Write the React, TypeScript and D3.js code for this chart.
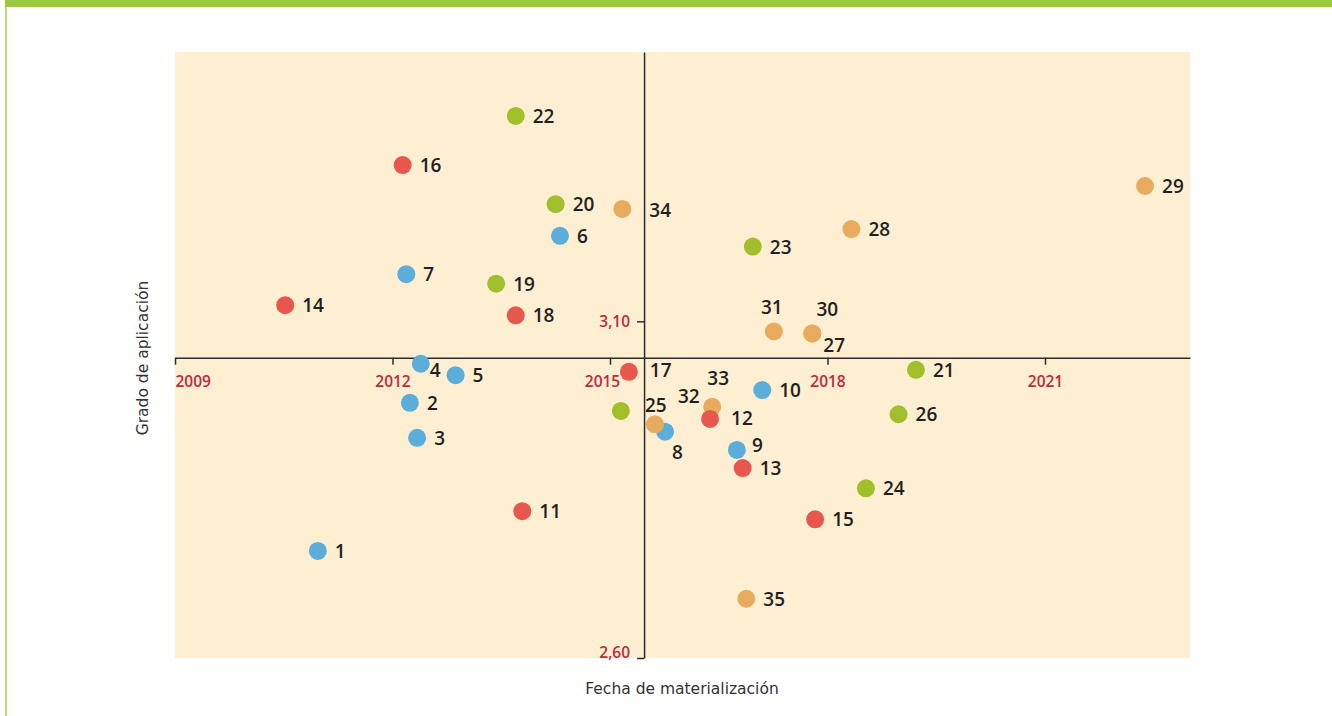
import React, { useRef, useEffect } from "react";
import { select, scaleLinear, axisBottom, axisLeft } from "d3";

// datos
const ids = [
  1, 2, 3, 4, 5, 6, 7, 8, 9, 10,
  11, 12, 13, 14, 15, 16, 17, 18,
  19, 20, 21, 22, 23, 24, 25, 26,
  27, 28, 29, 30, 31, 32, 33, 34, 35,
];
const fecha = [
  2010.97, 2012.24, 2012.34, 2012.39, 2012.87, 2014.31, 2012.19, 2015.76, 2016.75, 2017.1,
  2013.79, 2016.38, 2016.83, 2010.52, 2017.83, 2012.14, 2015.26, 2013.7,
  2013.43, 2014.25, 2019.22, 2013.7, 2016.97, 2018.53, 2015.15, 2018.98,
  2017.79, 2018.33, 2022.38, 2017.79, 2017.26, 2015.62, 2016.41, 2015.17, 2016.88,
];
const grado = [
  2.759, 2.979, 2.927, 3.037, 3.02, 3.227, 3.17, 2.936, 2.909, 2.998,
  2.818, 2.955, 2.882, 3.124, 2.806, 3.332, 3.025, 3.109,
  3.156, 3.274, 3.028, 3.405, 3.211, 2.852, 2.967, 2.962,
  3.082, 3.237, 3.301, 3.082, 3.085, 2.947, 2.973, 3.267, 2.688,
];
const grupo = [
  "azul", "azul", "azul", "azul", "azul", "azul", "azul", "azul", "azul", "azul",
  "rojo", "rojo", "rojo", "rojo", "rojo", "rojo", "rojo", "rojo",
  "verde", "verde", "verde", "verde", "verde", "verde", "verde", "verde",
  "naranja", "naranja", "naranja", "naranja", "naranja", "naranja", "naranja", "naranja", "naranja",
];
const xTicks = [2009, 2012, 2015, 2018, 2021];
const yTicks = [3.1, 2.6];
const xDomain = [2009, 2023];
const yDomain = [2.6, 3.5];
const cruceX = 2015.47;
const cruceY = 3.046;

const colores = {
  azul: "#5badda",
  rojo: "#e8574e",
  verde: "#a1bf2a",
  naranja: "#e8ab5d",
};
const orden = ["azul", "verde", "naranja", "rojo"];

// posicion de las etiquetas (dx, dy, anchor), por defecto a la derecha
const etiquetas = {
  4: [9, 13, "start"],
  8: [7, 27, "start"],
  9: [15, 2, "start"],
  12: [21, 6, "start"],
  17: [21, 5, "start"],
  34: [27, 8, "start"],
  25: [35, 1, "middle"],
  32: [23, -21, "start"],
  33: [6, -22, "middle"],
  31: [-2, -17, "middle"],
  30: [15, -17, "middle"],
  27: [11, 19, "start"],
};

function App() {
  const ref = useRef(null);

  useEffect(() => {
    const svg = select(ref.current);
    svg.selectAll("*").remove();

    const width = 1332;
    const height = 716;
    const left = 175, right = 1190, top = 52, bottom = 658;

    // marco verde
    svg.append("rect").attr("x", 5).attr("y", 0).attr("width", width - 5).attr("height", 7).attr("fill", "#9aca3c");
    svg.append("rect").attr("x", 5).attr("y", 7).attr("width", 2).attr("height", height - 7).attr("fill", "#b9da86");

    const x = scaleLinear().domain(xDomain).range([left, right]);
    const y = scaleLinear().domain(yDomain).range([bottom, top]);

    svg.append("rect")
      .attr("x", left).attr("y", top)
      .attr("width", right - left).attr("height", bottom - top)
      .attr("fill", "#feefd3");

    const font = "'Open Sans', sans-serif";
    const fontTitulo = "'DejaVu Sans', sans-serif";
    const rojoTexto = "#c0283b";

    // eje horizontal
    const xAxisG = svg.append("g")
      .attr("transform", `translate(0,${y(cruceY)})`)
      .call(axisBottom(x).tickValues(xTicks).tickSize(7).tickSizeOuter(0).tickFormat((d) => String(d)));
    xAxisG.select(".domain").attr("stroke", "#2b2b2b").attr("stroke-width", 1.5);
    xAxisG.selectAll(".tick line").attr("stroke", "#2b2b2b").attr("stroke-width", 1.5);
    xAxisG.selectAll(".tick text")
      .attr("y", 29)
      .attr("dy", 0)
      .attr("fill", rojoTexto)
      .attr("font-family", font)
      .attr("font-size", 15.5)
      .attr("font-weight", 600)
      .attr("text-anchor", (d) => (d === 2009 ? "start" : "middle"))
      .attr("x", (d) => (d === 2015 ? -8 : 0));

    // eje vertical
    const yAxisG = svg.append("g")
      .attr("transform", `translate(${x(cruceX)},0)`)
      .call(axisLeft(y).tickValues(yTicks).tickSize(7).tickSizeOuter(0).tickFormat((d) => d.toFixed(2).replace(".", ",")));
    yAxisG.select(".domain").attr("stroke", "#2b2b2b").attr("stroke-width", 1.5);
    yAxisG.selectAll(".tick line").attr("stroke", "#2b2b2b").attr("stroke-width", 1.5);
    yAxisG.selectAll(".tick text")
      .attr("x", -14)
      .attr("dy", (d) => (d === 2.6 ? "-0.05em" : "0.35em"))
      .attr("fill", rojoTexto)
      .attr("font-family", font)
      .attr("font-size", 15.5)
      .attr("font-weight", 600);
    xAxisG.attr("font-family", null).attr("font-size", null);
    yAxisG.attr("font-family", null).attr("font-size", null);

    // puntos
    const datos = ids.map((id, i) => ({ id, fx: fecha[i], gy: grado[i], g: grupo[i] }));
    const ordenados = datos.slice().sort((a, b) => orden.indexOf(a.g) - orden.indexOf(b.g));

    svg.append("g")
      .selectAll("circle")
      .data(ordenados)
      .enter()
      .append("circle")
      .attr("cx", (d) => x(d.fx))
      .attr("cy", (d) => y(d.gy))
      .attr("r", 9)
      .attr("fill", (d) => colores[d.g]);

    svg.append("g")
      .selectAll("text")
      .data(datos)
      .enter()
      .append("text")
      .attr("x", (d) => x(d.fx) + (etiquetas[d.id] ? etiquetas[d.id][0] : 17))
      .attr("y", (d) => y(d.gy) + (etiquetas[d.id] ? etiquetas[d.id][1] : 7))
      .attr("text-anchor", (d) => (etiquetas[d.id] ? etiquetas[d.id][2] : "start"))
      .attr("fill", "#231f20")
      .style("font-family", font)
      .style("font-size", "19px")
      .style("font-weight", 600)
      .text((d) => d.id);

    // titulos de ejes
    svg.append("text")
      .attr("x", 682)
      .attr("y", 694)
      .attr("text-anchor", "middle")
      .attr("fill", "#333")
      .style("font-family", fontTitulo)
      .style("font-size", "15.5px")
      .text("Fecha de materialización");

    svg.append("text")
      .attr("transform", "translate(148,358) rotate(-90)")
      .attr("text-anchor", "middle")
      .attr("fill", "#333")
      .style("font-family", fontTitulo)
      .style("font-size", "15.5px")
      .text("Grado de aplicación");
  });

  return (
    <svg
      ref={ref}
      width="1332"
      height="716"
      style={{ position: "absolute", left: 0, top: 0, background: "#fff" }}
    ></svg>
  );
}

export default App;
